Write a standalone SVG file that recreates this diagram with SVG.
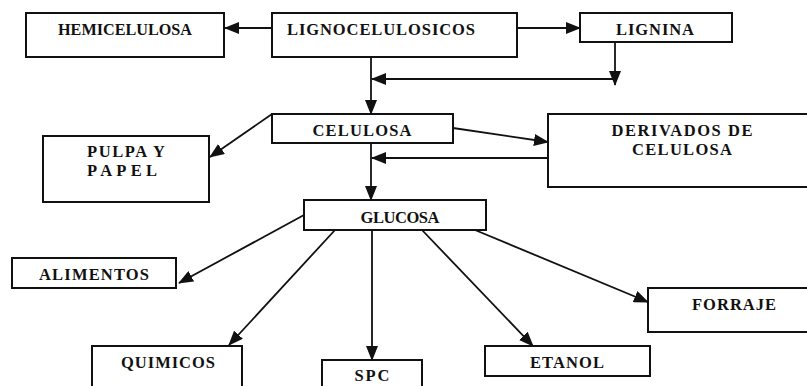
<svg xmlns="http://www.w3.org/2000/svg" width="807" height="386" viewBox="0 0 807 386">
<defs>
<style>
.box{fill:#fff;stroke:#111;stroke-width:2}
.t{font-family:"Liberation Serif","Times New Roman",serif;font-weight:bold;font-size:16.5px;fill:#111;text-anchor:middle}
.c{fill:none;stroke:#111;stroke-width:1.8}
</style>
<marker id="ah" markerUnits="userSpaceOnUse" markerWidth="15" markerHeight="12" refX="14" refY="6" orient="auto">
<path d="M0,0 L15,6 L0,12 z" fill="#111"/>
</marker>
</defs>
<rect width="807" height="386" fill="#fff"/>
<g id="connectors">
<line class="c" x1="272" y1="28" x2="225" y2="28" marker-end="url(#ah)"/>
<line class="c" x1="517" y1="28" x2="580" y2="28" marker-end="url(#ah)"/>
<line class="c" x1="371" y1="57" x2="371" y2="114" marker-end="url(#ah)"/>
<line class="c" x1="615" y1="42" x2="615" y2="85" marker-end="url(#ah)"/>
<line class="c" x1="615" y1="79" x2="372" y2="79" marker-end="url(#ah)"/>
<line class="c" x1="272" y1="114" x2="210" y2="157" marker-end="url(#ah)"/>
<line class="c" x1="453" y1="128" x2="548" y2="142" marker-end="url(#ah)"/>
<line class="c" x1="548" y1="158" x2="372" y2="158" marker-end="url(#ah)"/>
<line class="c" x1="371" y1="143" x2="371" y2="200" marker-end="url(#ah)"/>
<line class="c" x1="304" y1="215" x2="179" y2="283" marker-end="url(#ah)"/>
<line class="c" x1="335" y1="230" x2="229" y2="345" marker-end="url(#ah)"/>
<line class="c" x1="372" y1="230" x2="372" y2="360" marker-end="url(#ah)"/>
<line class="c" x1="422" y1="230" x2="533" y2="346" marker-end="url(#ah)"/>
<line class="c" x1="475" y1="230" x2="648" y2="302" marker-end="url(#ah)"/>
</g>
<g id="hemicelulosa"><rect class="box" x="26" y="13" width="198" height="44"/><text class="t" x="125" y="35" textLength="134" lengthAdjust="spacingAndGlyphs">HEMICELULOSA</text></g>
<g id="lignocelulosicos"><rect class="box" x="272" y="13" width="245" height="44"/><text class="t" x="381" y="35" textLength="188" lengthAdjust="spacing">LIGNOCELULOSICOS</text></g>
<g id="lignina"><rect class="box" x="580" y="13" width="152" height="29"/><text class="t" x="655" y="35" textLength="78" lengthAdjust="spacing">LIGNINA</text></g>
<g id="celulosa"><rect class="box" x="272" y="114" width="181" height="29"/><text class="t" x="362" y="136" textLength="99" lengthAdjust="spacing">CELULOSA</text></g>
<g id="pulpa"><rect class="box" x="43" y="136" width="166" height="66"/><text class="t" x="126" y="157" textLength="78" lengthAdjust="spacing">PULPA Y</text><text class="t" x="122" y="176" textLength="70" lengthAdjust="spacing">PAPEL</text></g>
<g id="derivados"><rect class="box" x="548" y="114" width="270" height="73"/><text class="t" x="682" y="136" textLength="141" lengthAdjust="spacing">DERIVADOS DE</text><text class="t" x="682" y="155" textLength="100" lengthAdjust="spacing">CELULOSA</text></g>
<g id="glucosa"><rect class="box" x="304" y="200" width="182" height="30"/><text class="t" x="400" y="223" textLength="79" lengthAdjust="spacing">GLUCOSA</text></g>
<g id="alimentos"><rect class="box" x="12" y="258" width="164" height="30"/><text class="t" x="94" y="280" textLength="110" lengthAdjust="spacing">ALIMENTOS</text></g>
<g id="quimicos"><rect class="box" x="92" y="346" width="150" height="50"/><text class="t" x="168" y="368" textLength="94" lengthAdjust="spacing">QUIMICOS</text></g>
<g id="spc"><rect class="box" x="322" y="360" width="100" height="40"/><text class="t" x="372" y="381" textLength="35" lengthAdjust="spacing">SPC</text></g>
<g id="etanol"><rect class="box" x="485" y="346" width="165" height="30"/><text class="t" x="567" y="368" textLength="74" lengthAdjust="spacing">ETANOL</text></g>
<g id="forraje"><rect class="box" x="648" y="288" width="170" height="44"/><text class="t" x="734" y="310" textLength="84" lengthAdjust="spacing">FORRAJE</text></g>
</svg>
